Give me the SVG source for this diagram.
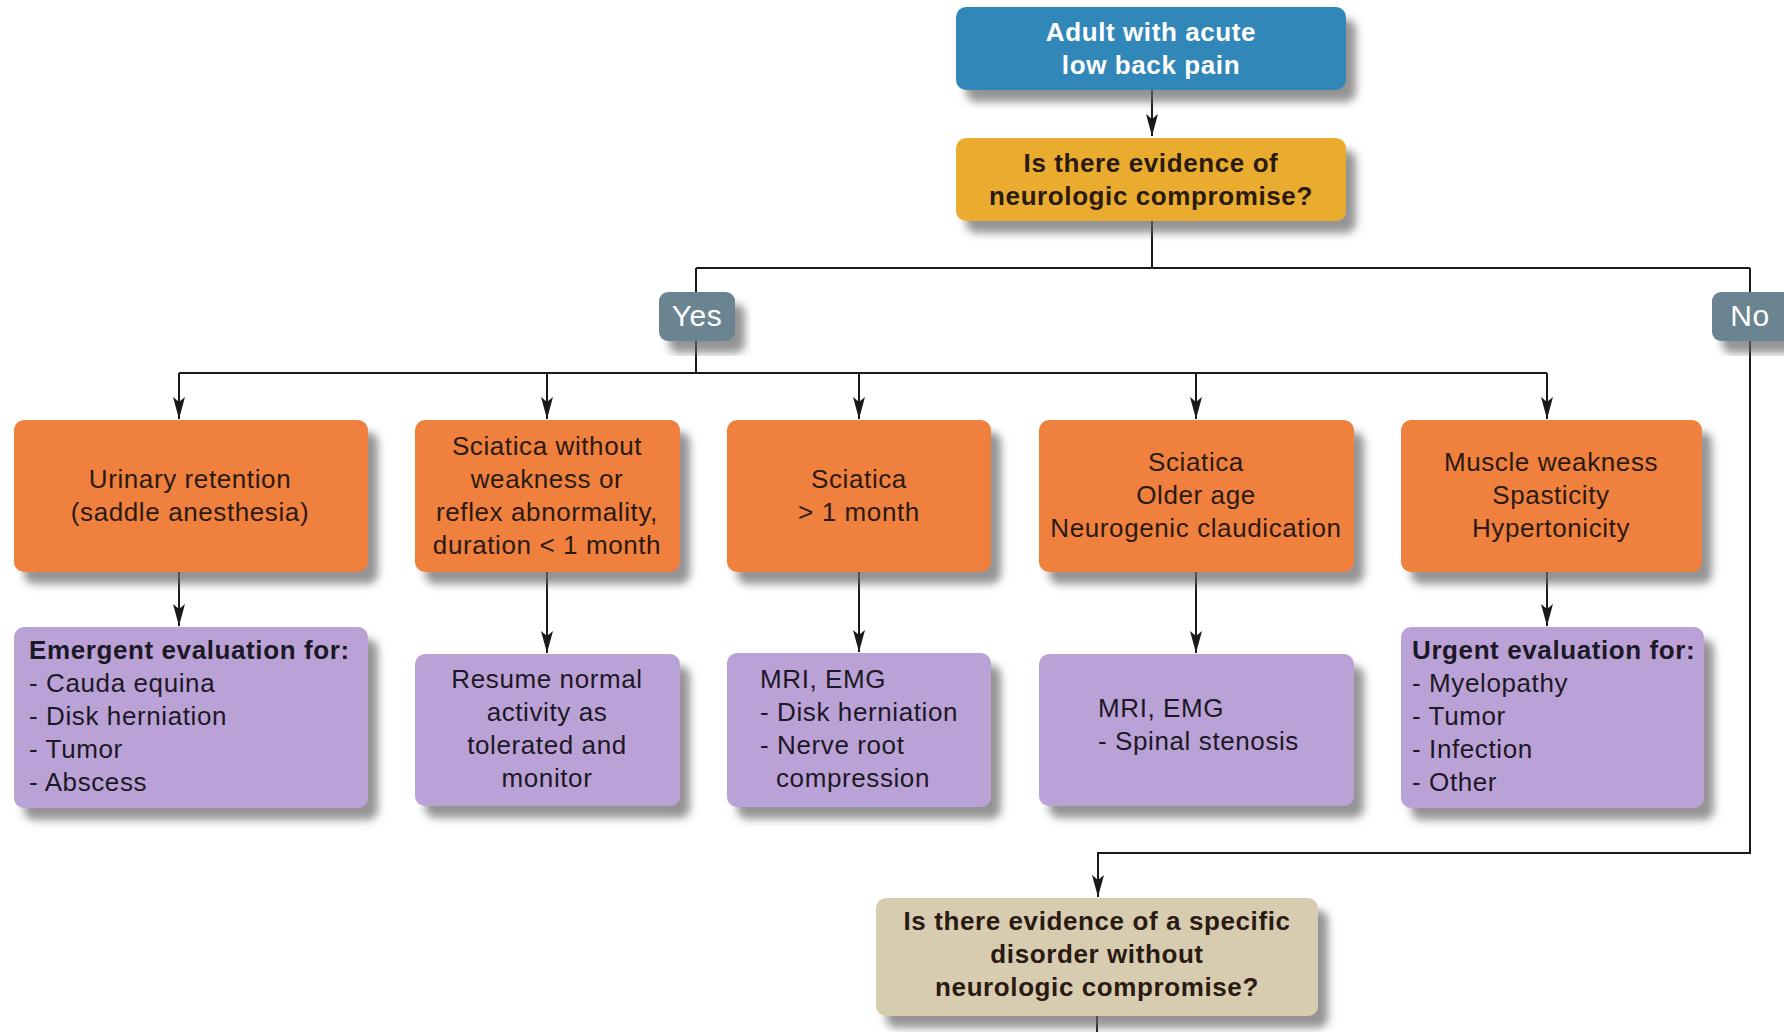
<svg xmlns="http://www.w3.org/2000/svg" width="1784" height="1032" viewBox="0 0 1784 1032">
<style>
text{font-family:"Liberation Sans",Arial,sans-serif;font-size:26px;letter-spacing:0.6px}
.b{font-weight:bold}
.c{text-anchor:middle}
.w{fill:#ffffff}
.dk{fill:#2a1a12}
.pu{fill:#1c1826}
.lab{fill:#ffffff;font-size:30px}
.box{filter:url(#sh)}
.con{fill:none;stroke:#1a1a1a;stroke-width:2}
</style>
<defs>
<filter id="sh" x="-10%" y="-10%" width="130%" height="140%">
<feDropShadow dx="10" dy="12" stdDeviation="4" flood-color="#666666" flood-opacity="0.7"/>
</filter>
<marker id="ah" markerUnits="userSpaceOnUse" markerWidth="22" markerHeight="12" refX="22" refY="6" orient="auto">
<path d="M0,0 L22,6 L0,12 L5,6 z" fill="#1a1a1a"/>
</marker>
</defs>
<rect width="1784" height="1032" fill="#ffffff"/>

<g id="connectors">
<path class="con" d="M1152,90 V136" marker-end="url(#ah)"/>
<path class="con" d="M1152,221 V268 M696,268 H1750 M696,268 V292 M1750,268 V292"/>
<path class="con" d="M696,341 V373 M179,373 H1547"/>
<path class="con" d="M179,373 V419" marker-end="url(#ah)"/>
<path class="con" d="M547,373 V419" marker-end="url(#ah)"/>
<path class="con" d="M859,373 V419" marker-end="url(#ah)"/>
<path class="con" d="M1196,373 V419" marker-end="url(#ah)"/>
<path class="con" d="M1547,373 V419" marker-end="url(#ah)"/>
<path class="con" d="M179,572 V626" marker-end="url(#ah)"/>
<path class="con" d="M547,572 V653" marker-end="url(#ah)"/>
<path class="con" d="M859,572 V652" marker-end="url(#ah)"/>
<path class="con" d="M1196,572 V653" marker-end="url(#ah)"/>
<path class="con" d="M1547,572 V626" marker-end="url(#ah)"/>
<path class="con" d="M1750,341 V853 H1098 V897" marker-end="url(#ah)"/>
<path class="con" d="M1097,1016 V1032"/>
</g>

<g id="start">
<rect class="box" x="956" y="7" width="390" height="83" rx="10" fill="#3187b9"/>
<text class="b c w" x="1151" y="41">Adult with acute</text>
<text class="b c w" x="1151" y="74">low back pain</text>
</g>

<g id="q1">
<rect class="box" x="956" y="138" width="390" height="83" rx="10" fill="#e9ac2e"/>
<text class="b c dk" x="1151" y="172">Is there evidence of</text>
<text class="b c dk" x="1151" y="205">neurologic compromise?</text>
</g>

<g id="yes">
<rect class="box" x="659" y="292" width="76" height="49" rx="9" fill="#6b8491"/>
<text class="lab c" x="697" y="326">Yes</text>
</g>

<g id="no">
<rect class="box" x="1712" y="292" width="80" height="49" rx="9" fill="#6b8491"/>
<text class="lab c" x="1750" y="326">No</text>
</g>

<g id="o1">
<rect class="box" x="14" y="420" width="354" height="152" rx="10" fill="#f0803c"/>
<text class="c dk" x="190" y="488">Urinary retention</text>
<text class="c dk" x="190" y="521">(saddle anesthesia)</text>
</g>

<g id="o2">
<rect class="box" x="415" y="420" width="265" height="152" rx="10" fill="#f0803c"/>
<text class="c dk" x="547" y="455">Sciatica without</text>
<text class="c dk" x="547" y="488">weakness or</text>
<text class="c dk" x="547" y="521">reflex abnormality,</text>
<text class="c dk" x="547" y="554">duration &lt; 1 month</text>
</g>

<g id="o3">
<rect class="box" x="727" y="420" width="264" height="152" rx="10" fill="#f0803c"/>
<text class="c dk" x="859" y="488">Sciatica</text>
<text class="c dk" x="859" y="521">&gt; 1 month</text>
</g>

<g id="o4">
<rect class="box" x="1039" y="420" width="315" height="152" rx="10" fill="#f0803c"/>
<text class="c dk" x="1196" y="471">Sciatica</text>
<text class="c dk" x="1196" y="504">Older age</text>
<text class="c dk" x="1196" y="537">Neurogenic claudication</text>
</g>

<g id="o5">
<rect class="box" x="1401" y="420" width="301" height="152" rx="10" fill="#f0803c"/>
<text class="c dk" x="1551" y="471">Muscle weakness</text>
<text class="c dk" x="1551" y="504">Spasticity</text>
<text class="c dk" x="1551" y="537">Hypertonicity</text>
</g>

<g id="p1">
<rect class="box" x="14" y="627" width="354" height="181" rx="10" fill="#bba2d6"/>
<text class="b pu" x="29" y="659">Emergent evaluation for:</text>
<text class="pu" x="29" y="692">- Cauda equina</text>
<text class="pu" x="29" y="725">- Disk herniation</text>
<text class="pu" x="29" y="758">- Tumor</text>
<text class="pu" x="29" y="791">- Abscess</text>
</g>

<g id="p2">
<rect class="box" x="415" y="654" width="265" height="152" rx="10" fill="#bba2d6"/>
<text class="c pu" x="547" y="688">Resume normal</text>
<text class="c pu" x="547" y="721">activity as</text>
<text class="c pu" x="547" y="754">tolerated and</text>
<text class="c pu" x="547" y="787">monitor</text>
</g>

<g id="p3">
<rect class="box" x="727" y="653" width="264" height="154" rx="10" fill="#bba2d6"/>
<text class="pu" x="760" y="688">MRI, EMG</text>
<text class="pu" x="760" y="721">- Disk herniation</text>
<text class="pu" x="760" y="754">- Nerve root</text>
<text class="pu" x="776" y="787">compression</text>
</g>

<g id="p4">
<rect class="box" x="1039" y="654" width="315" height="152" rx="10" fill="#bba2d6"/>
<text class="pu" x="1098" y="717">MRI, EMG</text>
<text class="pu" x="1098" y="750">- Spinal stenosis</text>
</g>

<g id="p5">
<rect class="box" x="1401" y="627" width="303" height="181" rx="10" fill="#bba2d6"/>
<text class="b pu" x="1412" y="659">Urgent evaluation for:</text>
<text class="pu" x="1412" y="692">- Myelopathy</text>
<text class="pu" x="1412" y="725">- Tumor</text>
<text class="pu" x="1412" y="758">- Infection</text>
<text class="pu" x="1412" y="791">- Other</text>
</g>

<g id="q2">
<rect class="box" x="876" y="898" width="442" height="118" rx="10" fill="#d8ccb0"/>
<text class="b c dk" x="1097" y="930">Is there evidence of a specific</text>
<text class="b c dk" x="1097" y="963">disorder without</text>
<text class="b c dk" x="1097" y="996">neurologic compromise?</text>
</g>
</svg>
